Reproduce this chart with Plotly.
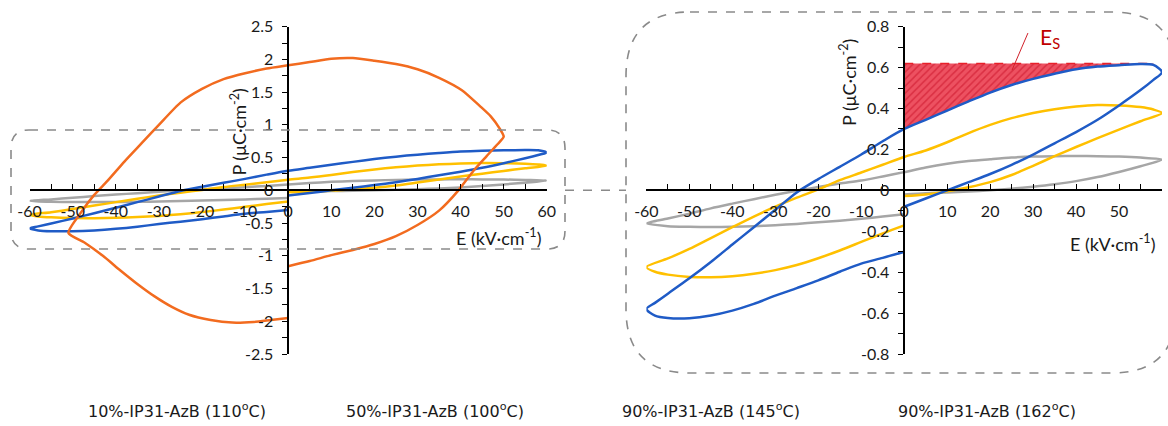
import numpy as np
import plotly.graph_objects as go

# ---------------- data (E in kV/cm, P in uC/cm2) ----------------
# orange loop (left panel only): rising branch, upper branch, lower-left branch
orange_E = [0, 5, 10, 15, 20, 25, 30, 35, 39.5, 43, 46, 48.5, 50,
            49, 47, 44.6, 40.3, 35, 30, 25, 20, 15, 10, 5, 0,
            -5, -10, -15, -20, -25, -30, -34, -38, -42, -45, -48, -51,
            -47.2, -43, -39, -35, -31, -27, -23, -18, -13, -8, -4, 0]
orange_P = [-1.16, -1.08, -0.99, -0.91, -0.82, -0.7, -0.53, -0.31, 0.0, 0.3, 0.52, 0.7, 0.82,
            0.95, 1.13, 1.28, 1.53, 1.72, 1.85, 1.93, 1.98, 2.02, 2.01, 1.96, 1.91,
            1.86, 1.79, 1.7, 1.55, 1.34, 1.0, 0.72, 0.44, 0.14, -0.07, -0.33, -0.65,
            -0.8, -1.0, -1.22, -1.43, -1.62, -1.78, -1.9, -1.98, -2.02, -2.01, -1.98, -1.95]

# blue loop: rising branch (0 -> +60), upper branch (+60 -> -60), lower-left branch (-60 -> 0)
blue_lr_E = [0, 5, 10, 15, 20, 25, 30, 35, 40, 45, 50, 55, 58, 60]
blue_lr_P = [-0.08, -0.04, 0.0, 0.04, 0.08, 0.125, 0.175, 0.23, 0.285, 0.345, 0.415, 0.49, 0.54, 0.578]
blue_up_E = [58, 55, 50, 45, 40, 35, 30, 25, 20, 15, 10, 5, 0, -5, -10, -15, -20, -25, -30, -35, -40, -45, -50, -55, -58, -60]
blue_up_P = [0.613, 0.618, 0.612, 0.605, 0.592, 0.57, 0.545, 0.515, 0.478, 0.435, 0.39, 0.345, 0.30, 0.24, 0.175,
             0.115, 0.055, -0.01, -0.095, -0.18, -0.265, -0.35, -0.43, -0.505, -0.55, -0.58]
blue_ll_E = [-58, -55, -50, -45, -40, -35, -30, -25, -20, -15, -10, -5, 0]
blue_ll_P = [-0.612, -0.624, -0.625, -0.612, -0.588, -0.555, -0.515, -0.478, -0.44, -0.398, -0.358, -0.33, -0.30]

# yellow loop
yellow_lr_E = [0, 5, 10, 15, 20, 25, 30, 35, 40, 45, 50, 55, 60]
yellow_lr_P = [-0.028, -0.02, -0.005, 0.015, 0.04, 0.075, 0.12, 0.167, 0.212, 0.255, 0.297, 0.338, 0.378]
yellow_up_E = [58, 55, 50, 45, 40, 35, 30, 25, 20, 15, 10, 5, 0, -5, -10, -15, -20, -25, -30, -35, -40, -45, -50, -55, -60]
yellow_up_P = [0.395, 0.407, 0.415, 0.417, 0.41, 0.397, 0.378, 0.353, 0.32, 0.28, 0.235, 0.195, 0.163, 0.125, 0.087,
               0.05, 0.005, -0.036, -0.08, -0.128, -0.18, -0.233, -0.286, -0.333, -0.375]
yellow_ll_E = [-58, -55, -50, -45, -40, -35, -30, -25, -20, -15, -10, -5, 0]
yellow_ll_P = [-0.398, -0.412, -0.423, -0.425, -0.42, -0.408, -0.39, -0.365, -0.332, -0.294, -0.252, -0.21, -0.171]

# grey loop
grey_lr_E = [0, 5, 10, 15, 20, 25, 30, 35, 40, 45, 50, 55, 60]
grey_lr_P = [-0.02, -0.014, -0.01, -0.006, 0.0, 0.008, 0.018, 0.03, 0.045, 0.065, 0.09, 0.118, 0.15]
grey_up_E = [55, 50, 45, 40, 35, 30, 25, 20, 15, 10, 5, 0, -5, -10, -15, -20, -25, -30, -35, -40, -45, -50, -55, -60]
grey_up_P = [0.16, 0.165, 0.167, 0.168, 0.167, 0.165, 0.16, 0.152, 0.143, 0.13, 0.112, 0.089, 0.068, 0.048, 0.033,
             0.016, -0.002, -0.022, -0.043, -0.065, -0.088, -0.114, -0.138, -0.162]
grey_ll_E = [-55, -50, -45, -40, -35, -30, -25, -20, -15, -10, -5, 0]
grey_ll_P = [-0.175, -0.178, -0.179, -0.178, -0.175, -0.17, -0.164, -0.156, -0.148, -0.139, -0.128, -0.117]

ES_LEVEL = 0.62
ES_E_MAX = 58

x_ticks = [-60, -50, -40, -30, -20, -10, 0, 10, 20, 30, 40, 50, 60]
x_ticktext = ["-60", "-50", "-40", "-30", "-20", "-10", "0", "10", "20", "30", "40", "50", "60"]
yl_ticks = [2.5, 2, 1.5, 1, 0.5, 0, -0.5, -1, -1.5, -2, -2.5]
yl_ticktext = ["2.5", "2", "1.5", "1", "0.5", "0", "-0.5", "-1", "-1.5", "-2", "-2.5"]
yr_ticks = [0.8, 0.6, 0.4, 0.2, 0, -0.2, -0.4, -0.6, -0.8]
yr_ticktext = ["0.8", "0.6", "0.4", "0.2", "0", "-0.2", "-0.4", "-0.6", "-0.8"]

legend_labels = ["10%-IP31-AzB (110<sup>o</sup>C)", "50%-IP31-AzB (100<sup>o</sup>C)",
                 "90%-IP31-AzB (145<sup>o</sup>C)", "90%-IP31-AzB (162<sup>o</sup>C)"]

# ---------------- styling ----------------
W, H = 1168, 426
ORANGE = "#F26B1F"
BLUE = "#1F5BC6"
YELLOW = "#FFC000"
GREY = "#A6A6A6"
LW = 2.5
TICKFONT = dict(family="Lato", size=16, color="#1a1a1a")


def fx(px):
    return px / W


def fy(py):
    return 1 - py / H


def loop(*parts):
    E, P = [], []
    for i in range(0, len(parts), 2):
        E += list(parts[i])
        P += list(parts[i + 1])
    return E, P


blue_E, blue_P = loop(blue_lr_E, blue_lr_P, blue_up_E, blue_up_P, blue_ll_E, blue_ll_P)
yellow_E, yellow_P = loop(yellow_lr_E, yellow_lr_P, yellow_up_E, yellow_up_P, yellow_ll_E, yellow_ll_P)
grey_E, grey_P = loop(grey_lr_E, grey_lr_P, grey_up_E, grey_up_P, grey_ll_E, grey_ll_P)

fig = go.Figure()

line_kw = dict(mode="lines", showlegend=False, hoverinfo="skip")

# Es shaded area (right panel) from blue upper branch
es_E = [e for e in blue_up_E if 0 <= e <= ES_E_MAX]
es_P = [p for e, p in zip(blue_up_E, blue_up_P) if 0 <= e <= ES_E_MAX]
fill_E = es_E + [0, ES_E_MAX]
fill_P = es_P + [ES_LEVEL, ES_LEVEL]
fig.add_trace(go.Scatter(x=fill_E, y=fill_P, fill="toself", fillcolor="rgba(228,30,50,0.85)",
                         fillpattern=dict(shape="/", fgcolor="rgba(196,8,30,0.95)", bgcolor="rgba(236,62,80,0.9)",
                                          size=5, solidity=0.3),
                         line=dict(width=0), xaxis="x2", yaxis="y2", **line_kw))
fig.add_trace(go.Scatter(x=[0, ES_E_MAX], y=[ES_LEVEL, ES_LEVEL],
                         line=dict(color="#E8202A", width=1.6, dash="dash"), xaxis="x2", yaxis="y2", **line_kw))

for (E, P, c) in [(grey_E, grey_P, GREY), (yellow_E, yellow_P, YELLOW), (blue_E, blue_P, BLUE)]:
    for xa, ya in [("x", "y"), ("x2", "y2")]:
        fig.add_trace(go.Scatter(x=E, y=P, line=dict(color=c, width=LW, shape="spline", smoothing=0.8),
                                 xaxis=xa, yaxis=ya, **line_kw))
fig.add_trace(go.Scatter(x=orange_E, y=orange_P, line=dict(color=ORANGE, width=LW, shape="spline", smoothing=0.6),
                         xaxis="x", yaxis="y", **line_kw))

# ---------------- axes ----------------
Y_DOM = [fy(354), fy(26.7)]
Y_MID = (Y_DOM[0] + Y_DOM[1]) / 2
XL_DOM = [fx(29.6), fx(546.8)]
XR_DOM = [fx(646.4), fx(1162)]

x_common = dict(tickvals=x_ticks, ticktext=x_ticktext, showgrid=False, zeroline=False,
                showline=True, linecolor="black", linewidth=1.5, ticks="inside", ticklen=6,
                tickcolor="black", tickwidth=1.3, tickfont=TICKFONT, ticklabelstandoff=7,
                minor=dict(tickvals=list(np.arange(-55, 60, 10)), ticks="inside", ticklen=6,
                           tickcolor="black", tickwidth=1.3, showgrid=False),
                anchor="free", position=Y_MID, fixedrange=True)
y_common = dict(showgrid=False, zeroline=False, showline=True, linecolor="black", linewidth=1.5,
                ticks="outside", ticklen=5, tickcolor="black", tickwidth=1.3, tickfont=TICKFONT,
                ticklabelstandoff=6, anchor="free", domain=Y_DOM, fixedrange=True)

fig.update_layout(
    width=W, height=H, margin=dict(l=0, r=0, t=0, b=0, autoexpand=False),
    paper_bgcolor="white", plot_bgcolor="rgba(0,0,0,0)",
    xaxis=dict(range=[-60, 60], domain=XL_DOM, **x_common),
    yaxis=dict(range=[-2.5, 2.5], tickvals=yl_ticks, ticktext=yl_ticktext,
               position=(XL_DOM[0] + XL_DOM[1]) / 2,
               minor=dict(tickvals=list(np.arange(-2.25, 2.5, 0.5)), ticks="outside", ticklen=5,
                          tickcolor="black", tickwidth=1.3, showgrid=False),
               **y_common),
    xaxis2=dict(range=[-60, 60], domain=XR_DOM, **x_common),
    yaxis2=dict(range=[-0.8, 0.8], tickvals=yr_ticks, ticktext=yr_ticktext,
                position=(XR_DOM[0] + XR_DOM[1]) / 2,
                minor=dict(tickvals=list(np.arange(-0.7, 0.8, 0.2)), ticks="outside", ticklen=5,
                           tickcolor="black", tickwidth=1.3, showgrid=False),
                **y_common),
)


# ---------------- dashed rounded boxes + connector ----------------
def rrect(x0, y0, x1, y1, r):
    pts = [("M", [(x0 + r, y0)]), ("L", [(x1 - r, y0)]), ("Q", [(x1, y0), (x1, y0 + r)]),
           ("L", [(x1, y1 - r)]), ("Q", [(x1, y1), (x1 - r, y1)]), ("L", [(x0 + r, y1)]),
           ("Q", [(x0, y1), (x0, y1 - r)]), ("L", [(x0, y0 + r)]), ("Q", [(x0, y0), (x0 + r, y0)])]
    s = ""
    for cmd, ps in pts:
        s += cmd + " " + " ".join(f"{fx(a):.5f},{fy(b):.5f}" for a, b in ps) + " "
    return s + "Z"


box_line = dict(color="#8a8a8a", width=1.6, dash="dash")
fig.add_shape(type="path", path=rrect(11, 130, 565, 249, 18), xref="paper", yref="paper", line=box_line)
fig.add_shape(type="path", path=rrect(626, 12, 1176, 373, 64), xref="paper", yref="paper", line=box_line)
fig.add_shape(type="line", x0=fx(565), x1=fx(626), y0=fy(190.3), y1=fy(190.3), xref="paper", yref="paper",
              line=box_line)

# Es label + leader
fig.add_shape(type="line", x0=28.8, y0=0.769, x1=25.1, y1=0.588, xref="x2", yref="y2",
              line=dict(color="#D0202A", width=1))
fig.add_annotation(x=34, y=0.745, xref="x2", yref="y2", text="E<sub>S</sub>", showarrow=False,
                   font=dict(family="Lato", size=21, color="#C00000"))

# axis titles
title_font = dict(family="Lato", size=18, color="#1a1a1a")
for (px, py, txt, ang) in [(238.6, 132, "P (μC·cm<sup>-2</sup>)", -90), (848, 83, "P (μC·cm<sup>-2</sup>)", -90),
                           (498, 237, "E (kV·cm<sup>-1</sup>)", 0), (1112, 243, "E (kV·cm<sup>-1</sup>)", 0)]:
    fig.add_annotation(x=fx(px), y=fy(py), xref="paper", yref="paper", text=txt, textangle=ang,
                       showarrow=False, font=title_font, xanchor="center", yanchor="middle")

# bottom labels
for cx, lab in zip([177, 435, 711, 987], legend_labels):
    fig.add_annotation(x=fx(cx), y=fy(410), xref="paper", yref="paper", text=lab, showarrow=False,
                       font=dict(family="DejaVu Sans", size=16, color="#1a1a1a"),
                       xanchor="center", yanchor="middle")

fig.write_html("out.html", config={"displayModeBar": False, "responsive": False},
               post_script="document.body.style.margin='0px';document.body.style.padding='0px';"
                           "document.body.style.overflow='hidden';")
